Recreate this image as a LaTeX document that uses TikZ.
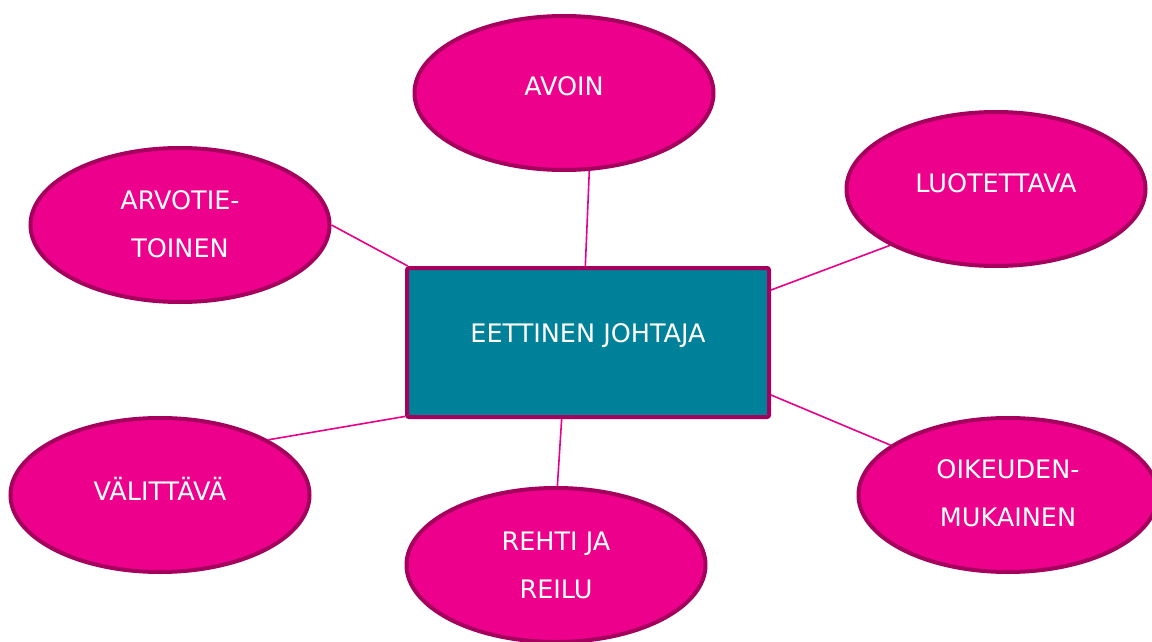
\documentclass[tikz,border=0pt]{standalone}
\usepackage{fontspec}
\setmainfont{DejaVu Sans}
\usetikzlibrary{shapes.geometric}
\definecolor{petal}{HTML}{EC008C}
\definecolor{rim}{HTML}{A6005E}
\definecolor{link}{HTML}{E8008A}
\definecolor{core}{HTML}{00819A}
\tikzset{
  petal/.style={ellipse, draw=rim, fill=petal, line width=4pt,
    minimum width=299pt, minimum height=154pt, inner sep=0pt},
  corebox/.style={rectangle, draw=rim, fill=core, line width=4pt, rounded corners=2pt,
    minimum width=362pt, minimum height=149pt, inner sep=0pt},
  lbl/.style={text=white, align=center, inner sep=0pt,
    font=\fontsize{25.5pt}{48pt}\selectfont},
  link/.style={draw=link, line width=1.6pt}
}
\begin{document}
\begin{tikzpicture}[x=1pt,y=-1pt]
\useasboundingbox (0,0) rectangle (1152,642);
\clip (0,0) rectangle (1152,642);
\fill[white] (0,0) rectangle (1152,642);

% central box and surrounding ellipses
\node[corebox] (box) at (588,342.5) {};
\node[petal] (avoin) at (564,93) {};
\node[petal] (luot) at (996,189) {};
\node[petal] (arvo) at (180,225) {};
\node[petal] (valit) at (160,495) {};
\node[petal] (rehti) at (556,565) {};
\node[petal] (oik) at (1008,495) {};

% connectors
\draw[link] (avoin.-72.4) -- (box.92.2);
\draw[link] (luot.-152.2) -- (box.16.9);
\draw[link] (arvo.-0.4) -- (box.157.8);
\draw[link] (valit.27.4) -- (box.202.2);
\draw[link] (rehti.89.3) -- (box.251.9);
\draw[link] (oik.157.7) -- (box.-16);

% labels
\node[lbl] (boxt) at ([yshift=7pt]box.center) {EETTINEN JOHTAJA};
\node[lbl] (avoint) at ([yshift=7pt]avoin.center) {AVOIN};
\node[lbl] (luott) at ([yshift=6pt]luot.center) {LUOTETTAVA};
\node[lbl] (arvot) at ([yshift=1pt]arvo.center) {ARVOTIE-\\TOINEN};
\node[lbl] (valitt) at ([yshift=6pt]valit.center) {VÄLITTÄVÄ};
\node[lbl] (rehtit) at ([yshift=-0.5pt]rehti.center) {REHTI JA\\REILU};
\node[lbl] (oikt) at ([yshift=1.5pt]oik.center) {OIKEUDEN-\\MUKAINEN};
\end{tikzpicture}
\end{document}
